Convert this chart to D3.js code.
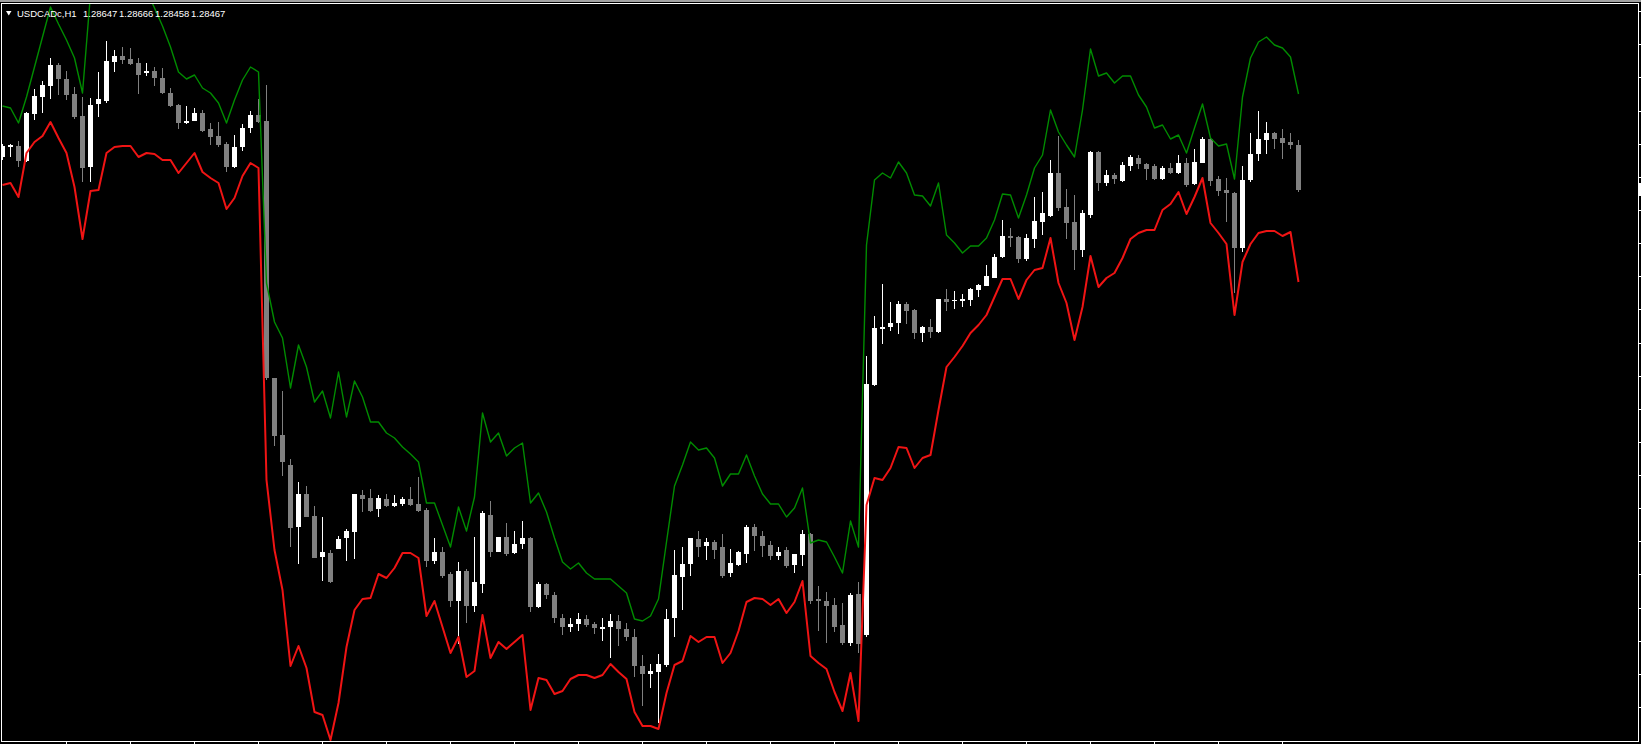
<!DOCTYPE html>
<html>
<head>
<meta charset="utf-8">
<script src="https://cdn.jsdelivr.net/npm/d3@7"></script>
<style>
html, body { margin: 0; padding: 0; background: #000; overflow: hidden; }
svg { display: block; }
</style>
</head>
<body>
<svg id="chart"></svg>
<script>
var w = 1641;
var h = 744;

var symbol = "USDCADc,H1";
var quote = ["1.28647", "1.28666", "1.28458", "1.28467"];

// hourly bars, oldest first
var open = [
  1.28599, 1.28639, 1.28643, 1.28583, 1.28771, 1.28839, 1.28883, 1.28967, 1.28911, 1.28851,
  1.28763, 1.28559, 1.28811, 1.28823, 1.28979, 1.29003, 1.28991, 1.28975, 1.28935, 1.28943,
  1.28915, 1.28855, 1.28807, 1.28735, 1.28743, 1.28775, 1.28711, 1.28683, 1.28651, 1.28559,
  1.28639, 1.28715, 1.28767, 1.28743, 1.27715, 1.27487, 1.27367, 1.27119, 1.27251, 1.27163,
  1.26999, 1.27015, 1.27031, 1.27075, 1.27099, 1.27247, 1.27235, 1.27191, 1.27231, 1.27203,
  1.27211, 1.27231, 1.27211, 1.27187, 1.26983, 1.27019, 1.26931, 1.26823, 1.26943, 1.26803,
  1.26891, 1.27167, 1.27019, 1.27079, 1.27015, 1.27051, 1.27075, 1.26799, 1.26891, 1.26847,
  1.26755, 1.26719, 1.26731, 1.26751, 1.26731, 1.26711, 1.26719, 1.26743, 1.26711, 1.26679,
  1.26563, 1.26531, 1.26539, 1.26567, 1.26755, 1.26919, 1.26971, 1.27071, 1.27043, 1.27059,
  1.27039, 1.26935, 1.26967, 1.27011, 1.27119, 1.27083, 1.27047, 1.27003, 1.27027, 1.26967,
  1.27007, 1.27091, 1.26831, 1.26823, 1.26807, 1.26727, 1.26655, 1.26851, 1.26687, 1.27687,
  1.27911, 1.27919, 1.27935, 1.28011, 1.27987, 1.27895, 1.27919, 1.27899, 1.28031, 1.28023,
  1.28023, 1.28027, 1.28067, 1.28083, 1.28115, 1.28199, 1.28283, 1.28279, 1.28191, 1.28271,
  1.28339, 1.28363, 1.28535, 1.28399, 1.28339, 1.28227, 1.28367, 1.28619, 1.28495, 1.28527,
  1.28503, 1.28563, 1.28595, 1.28571, 1.28563, 1.28511, 1.28555, 1.28535, 1.28575, 1.28491,
  1.28575, 1.28671, 1.28511, 1.28467, 1.28455, 1.28235, 1.28507, 1.28611, 1.28667, 1.28695,
  1.28675, 1.28659, 1.28647
];
var high = [
  1.28651, 1.28651, 1.28663, 1.28779, 1.28871, 1.28903, 1.28995, 1.28975, 1.28943, 1.28879,
  1.28839, 1.28835, 1.28939, 1.29063, 1.29027, 1.29039, 1.29035, 1.28995, 1.28975, 1.28959,
  1.28955, 1.28875, 1.28811, 1.28803, 1.28795, 1.28787, 1.28735, 1.28739, 1.28659, 1.28687,
  1.28731, 1.28783, 1.28831, 1.28887, 1.27715, 1.27663, 1.27391, 1.27299, 1.27283, 1.27203,
  1.27159, 1.27027, 1.27083, 1.27111, 1.27251, 1.27267, 1.27271, 1.27247, 1.27251, 1.27247,
  1.27239, 1.27279, 1.27319, 1.27195, 1.27075, 1.27039, 1.26939, 1.26979, 1.26951, 1.27079,
  1.27183, 1.27223, 1.27079, 1.27135, 1.27103, 1.27143, 1.27079, 1.26899, 1.26895, 1.26859,
  1.26771, 1.26755, 1.26775, 1.26767, 1.26739, 1.26755, 1.26771, 1.26767, 1.26735, 1.26711,
  1.26607, 1.26571, 1.26611, 1.26791, 1.27027, 1.27039, 1.27075, 1.27103, 1.27075, 1.27067,
  1.27091, 1.27031, 1.27023, 1.27127, 1.27131, 1.27103, 1.27063, 1.27039, 1.27039, 1.27011,
  1.27107, 1.27095, 1.26883, 1.26859, 1.26835, 1.26815, 1.26855, 1.26899, 1.27803, 1.27963,
  1.28091, 1.28019, 1.28023, 1.28019, 1.27991, 1.27923, 1.27951, 1.28031, 1.28071, 1.28063,
  1.28051, 1.28075, 1.28091, 1.28167, 1.28211, 1.28347, 1.28315, 1.28283, 1.28291, 1.28439,
  1.28459, 1.28587, 1.28683, 1.28471, 1.28447, 1.28387, 1.28623, 1.28623, 1.28547, 1.28535,
  1.28579, 1.28607, 1.28607, 1.28575, 1.28571, 1.28563, 1.28575, 1.28607, 1.28595, 1.28631,
  1.28679, 1.28675, 1.28523, 1.28515, 1.28459, 1.28563, 1.28695, 1.28783, 1.28739, 1.28699,
  1.28711, 1.28695, 1.28666
];
var low = [
  1.28587, 1.28599, 1.28559, 1.28579, 1.28747, 1.28775, 1.28831, 1.28847, 1.28827, 1.28751,
  1.28499, 1.28499, 1.28759, 1.28815, 1.28939, 1.28971, 1.28967, 1.28851, 1.28923, 1.28883,
  1.28851, 1.28799, 1.28711, 1.28731, 1.28743, 1.28699, 1.28647, 1.28639, 1.28539, 1.28555,
  1.28623, 1.28695, 1.28735, 1.27707, 1.27443, 1.27323, 1.27039, 1.26971, 1.27159, 1.26995,
  1.26903, 1.26895, 1.27031, 1.26983, 1.26991, 1.27179, 1.27179, 1.27159, 1.27199, 1.27199,
  1.27203, 1.27203, 1.27179, 1.26959, 1.26971, 1.26915, 1.26799, 1.26651, 1.26735, 1.26779,
  1.26855, 1.26999, 1.27019, 1.27003, 1.27011, 1.27031, 1.26779, 1.26795, 1.26831, 1.26735,
  1.26687, 1.26699, 1.26703, 1.26719, 1.26691, 1.26663, 1.26595, 1.26643, 1.26663, 1.26519,
  1.26403, 1.26475, 1.26335, 1.26559, 1.26679, 1.26787, 1.26923, 1.26999, 1.26987, 1.26991,
  1.26915, 1.26919, 1.26963, 1.26975, 1.27023, 1.26999, 1.26987, 1.26987, 1.26955, 1.26935,
  1.26963, 1.26811, 1.26703, 1.26655, 1.26699, 1.26647, 1.26643, 1.26615, 1.26679, 1.27683,
  1.27851, 1.27903, 1.27891, 1.27931, 1.27871, 1.27859, 1.27875, 1.27895, 1.27983, 1.27991,
  1.27999, 1.28003, 1.28039, 1.28083, 1.28115, 1.28195, 1.28239, 1.28175, 1.28183, 1.28235,
  1.28287, 1.28359, 1.28383, 1.28271, 1.28147, 1.28199, 1.28355, 1.28463, 1.28483, 1.28491,
  1.28499, 1.28543, 1.28551, 1.28507, 1.28507, 1.28507, 1.28531, 1.28531, 1.28479, 1.28487,
  1.28575, 1.28483, 1.28443, 1.28339, 1.28055, 1.28219, 1.28499, 1.28583, 1.28611, 1.28631,
  1.28591, 1.28631, 1.28458
];
var close = [
  1.28643, 1.28647, 1.28583, 1.28775, 1.28843, 1.28887, 1.28967, 1.28911, 1.28847, 1.28759,
  1.28555, 1.28807, 1.28831, 1.28983, 1.29003, 1.28987, 1.28971, 1.28927, 1.28943, 1.28915,
  1.28855, 1.28803, 1.28735, 1.28743, 1.28775, 1.28703, 1.28679, 1.28647, 1.28559, 1.28639,
  1.28715, 1.28767, 1.28739, 1.27715, 1.27483, 1.27379, 1.27115, 1.27251, 1.27159, 1.26995,
  1.27019, 1.26899, 1.27071, 1.27103, 1.27251, 1.27231, 1.27183, 1.27235, 1.27203, 1.27215,
  1.27231, 1.27207, 1.27183, 1.26983, 1.27019, 1.26923, 1.26823, 1.26943, 1.26803, 1.26899,
  1.27175, 1.27019, 1.27079, 1.27011, 1.27051, 1.27075, 1.26799, 1.26891, 1.26847, 1.26755,
  1.26719, 1.26731, 1.26751, 1.26727, 1.26715, 1.26719, 1.26743, 1.26711, 1.26679, 1.26563,
  1.26531, 1.26543, 1.26571, 1.26751, 1.26927, 1.26971, 1.27075, 1.27039, 1.27059, 1.27027,
  1.26923, 1.26975, 1.27019, 1.27119, 1.27083, 1.27043, 1.27003, 1.27019, 1.26963, 1.27011,
  1.27091, 1.26823, 1.26823, 1.26803, 1.26719, 1.26655, 1.26847, 1.26651, 1.27691, 1.27915,
  1.27919, 1.27935, 1.28011, 1.27983, 1.27895, 1.27919, 1.27899, 1.28031, 1.28019, 1.28027,
  1.28031, 1.28071, 1.28087, 1.28123, 1.28199, 1.28283, 1.28275, 1.28191, 1.28275, 1.28343,
  1.28375, 1.28535, 1.28395, 1.28335, 1.28227, 1.28375, 1.28619, 1.28495, 1.28527, 1.28511,
  1.28567, 1.28599, 1.28571, 1.28551, 1.28511, 1.28555, 1.28535, 1.28575, 1.28487, 1.28579,
  1.28671, 1.28503, 1.28463, 1.28455, 1.28235, 1.28507, 1.28611, 1.28671, 1.28695, 1.28671,
  1.28655, 1.28647, 1.28467
];
// indicator bands
var upper = [
  1.28803, 1.28795, 1.28735, 1.28839, 1.28959, 1.29079, 1.29199, 1.29131, 1.29067, 1.28995,
  1.28855, 1.29251, 1.29275, 1.29307, 1.29327, 1.29315, 1.29299, 1.29283, 1.29267, 1.29195,
  1.29123, 1.29039, 1.28939, 1.28911, 1.28927, 1.28875, 1.28855, 1.28815, 1.28735, 1.28827,
  1.28907, 1.28959, 1.28939, 1.28095, 1.27939, 1.27875, 1.27675, 1.27847, 1.27759, 1.27619,
  1.27663, 1.27555, 1.27739, 1.27559, 1.27703, 1.27639, 1.27539, 1.27539, 1.27495, 1.27475,
  1.27439, 1.27411, 1.27379, 1.27215, 1.27215, 1.27127, 1.27039, 1.27199, 1.27103, 1.27239,
  1.27575, 1.27459, 1.27495, 1.27403, 1.27435, 1.27455, 1.27215, 1.27255, 1.27179, 1.27075,
  1.26979, 1.26951, 1.26975, 1.26935, 1.26911, 1.26911, 1.26911, 1.26883, 1.26855, 1.26751,
  1.26743, 1.26763, 1.26831, 1.27059, 1.27283, 1.27367, 1.27459, 1.27427, 1.27435, 1.27395,
  1.27283, 1.27331, 1.27331, 1.27407, 1.27323, 1.27251, 1.27211, 1.27211, 1.27159, 1.27195,
  1.27275, 1.27055, 1.27067, 1.27059, 1.26999, 1.26935, 1.27143, 1.27039, 1.28247, 1.28507,
  1.28535, 1.28515, 1.28579, 1.28535, 1.28447, 1.28443, 1.28403, 1.28495, 1.28287, 1.28255,
  1.28215, 1.28243, 1.28243, 1.28275, 1.28347, 1.28451, 1.28447, 1.28355, 1.28447, 1.28555,
  1.28607, 1.28787, 1.28699, 1.28647, 1.28599, 1.28787, 1.29031, 1.28923, 1.28935, 1.28895,
  1.28923, 1.28923, 1.28847, 1.28799, 1.28715, 1.28727, 1.28671, 1.28687, 1.28615, 1.28715,
  1.28811, 1.28675, 1.28643, 1.28651, 1.28511, 1.28839, 1.28995, 1.29059, 1.29079, 1.29047,
  1.29035, 1.28999, 1.28851
];
var lower = [
  1.28487, 1.28495, 1.28439, 1.28615, 1.28659, 1.28683, 1.28739, 1.28675, 1.28615, 1.28479,
  1.28271, 1.28463, 1.28467, 1.28615, 1.28639, 1.28643, 1.28643, 1.28599, 1.28615, 1.28611,
  1.28587, 1.28587, 1.28535, 1.28575, 1.28615, 1.28539, 1.28515, 1.28495, 1.28391, 1.28435,
  1.28523, 1.28575, 1.28555, 1.27307, 1.27027, 1.26867, 1.26563, 1.26643, 1.26555, 1.26379,
  1.26367, 1.26267, 1.26415, 1.26639, 1.26787, 1.26831, 1.26835, 1.26931, 1.26915, 1.26955,
  1.27015, 1.27015, 1.26995, 1.26763, 1.26823, 1.26719, 1.26615, 1.26679, 1.26519, 1.26543,
  1.26767, 1.26595, 1.26659, 1.26631, 1.26659, 1.26687, 1.26387, 1.26515, 1.26507, 1.26451,
  1.26463, 1.26511, 1.26527, 1.26527, 1.26515, 1.26527, 1.26571, 1.26539, 1.26511, 1.26379,
  1.26323, 1.26323, 1.26311, 1.26455, 1.26567, 1.26583, 1.26683, 1.26659, 1.26679, 1.26679,
  1.26575, 1.26615, 1.26703, 1.26819, 1.26835, 1.26831, 1.26807, 1.26831, 1.26775, 1.26819,
  1.26903, 1.26603, 1.26575, 1.26551, 1.26459, 1.26383, 1.26535, 1.26343, 1.27207, 1.27315,
  1.27307, 1.27355, 1.27439, 1.27435, 1.27355, 1.27395, 1.27407, 1.27587, 1.27759, 1.27799,
  1.27843, 1.27895, 1.27927, 1.27967, 1.28039, 1.28111, 1.28111, 1.28031, 1.28107, 1.28147,
  1.28155, 1.28275, 1.28095, 1.28015, 1.27867, 1.27999, 1.28203, 1.28079, 1.28115, 1.28135,
  1.28195, 1.28271, 1.28295, 1.28307, 1.28307, 1.28387, 1.28411, 1.28459, 1.28371, 1.28439,
  1.28515, 1.28335, 1.28295, 1.28251, 1.27967, 1.28179, 1.28251, 1.28295, 1.28303, 1.28303,
  1.28283, 1.28299, 1.28099
];
// price scale ticks (labels fall outside the window)
var priceTicks = [
  1.29183, 1.29050, 1.28918, 1.28785, 1.28653, 1.28520, 1.28387, 1.28255, 1.28122, 1.27990,
  1.27857, 1.27724, 1.27592, 1.27459, 1.27327, 1.27194, 1.27061, 1.26929, 1.26796, 1.26664,
  1.26531, 1.26398
];

var n = open.length;
var bars = d3.range(n).map(function(i) {
  return {i: i, o: open[i], h: high[i], l: low[i], c: close[i]};
});

var x = d3.scaleLinear().domain([0, n - 1]).range([2, 2 + 8 * (n - 1)]);
var y = d3.scaleLinear().domain([1.26263, 1.29211]).range([741, 4]);

var svg = d3.select("#chart").attr("width", w).attr("height", h);

svg.append("rect").attr("width", w).attr("height", h).attr("fill", "#000");
svg.append("rect").attr("width", w).attr("height", 2).attr("fill", "#a0a0a0");

svg.append("defs").append("clipPath").attr("id", "plot")
  .append("rect").attr("x", 2).attr("y", 4).attr("width", 1636).attr("height", 737);

var gCandles = svg.append("g").attr("clip-path", "url(#plot)").attr("shape-rendering", "crispEdges");
var colour = function(d) { return d.c >= d.o ? "#ffffff" : "#808080"; };

gCandles.selectAll(".wick").data(bars).enter().append("rect")
  .attr("class", "wick")
  .attr("x", function(d) { return Math.round(x(d.i)); })
  .attr("y", function(d) { return Math.round(y(d.h)); })
  .attr("width", 1)
  .attr("height", function(d) { return Math.max(1, Math.round(y(d.l)) - Math.round(y(d.h))); })
  .attr("fill", colour);

gCandles.selectAll(".body").data(bars).enter().append("rect")
  .attr("class", "body")
  .attr("x", function(d) { return Math.round(x(d.i)) - 2; })
  .attr("y", function(d) { return Math.round(y(Math.max(d.o, d.c))); })
  .attr("width", 5)
  .attr("height", function(d) { return Math.max(1, Math.round(y(Math.min(d.o, d.c))) - Math.round(y(Math.max(d.o, d.c)))); })
  .attr("fill", colour);

var line = d3.line().x(function(d, i) { return x(i) + 0.5; }).y(function(d) { return y(d); });
var gLines = svg.append("g").attr("clip-path", "url(#plot)");
gLines.append("path").attr("d", line(upper)).attr("fill", "none")
  .attr("stroke", "#008c00").attr("stroke-width", 1.4).attr("stroke-linejoin", "round");
gLines.append("path").attr("d", line(lower)).attr("fill", "none")
  .attr("stroke", "#f01414").attr("stroke-width", 2).attr("stroke-linejoin", "round");

// frame and scale marks
var gFrame = svg.append("g").attr("shape-rendering", "crispEdges");
gFrame.append("rect").attr("x", 1.5).attr("y", 3.5).attr("width", 1637).attr("height", 738)
  .attr("fill", "none").attr("stroke", "#ffffff");

gFrame.selectAll(".ptick").data(priceTicks).enter().append("line")
  .attr("x1", 1639).attr("x2", 1641)
  .attr("y1", function(d) { return Math.round(y(d)) + 0.5; })
  .attr("y2", function(d) { return Math.round(y(d)) + 0.5; })
  .attr("stroke", "#ffffff");

gFrame.selectAll(".ttick").data(d3.range(8, n, 8)).enter().append("line")
  .attr("x1", function(d) { return Math.round(x(d)) + 0.5; })
  .attr("x2", function(d) { return Math.round(x(d)) + 0.5; })
  .attr("y1", 742).attr("y2", 744)
  .attr("stroke", "#ffffff");

gFrame.append("rect")
  .attr("x", 1639).attr("y", Math.round(y(close[n - 1])) - 7)
  .attr("width", 2).attr("height", 13).attr("fill", "#ffffff");

// header
var header = svg.append("g").attr("font-family", "'Liberation Sans', Arial, sans-serif")
  .attr("font-size", "9.5px").attr("fill", "#ffffff");
header.append("path").attr("d", "M6,11L11.5,11L8.75,15.5Z");
header.append("text").attr("x", 17).attr("y", 16.5).text(symbol);
var quoteX = [83, 119, 155, 191];
header.selectAll(".q").data(quote).enter().append("text")
  .attr("x", function(d, i) { return quoteX[i]; })
  .attr("y", 16.5)
  .text(function(d) { return d; });
</script>
</body>
</html>
